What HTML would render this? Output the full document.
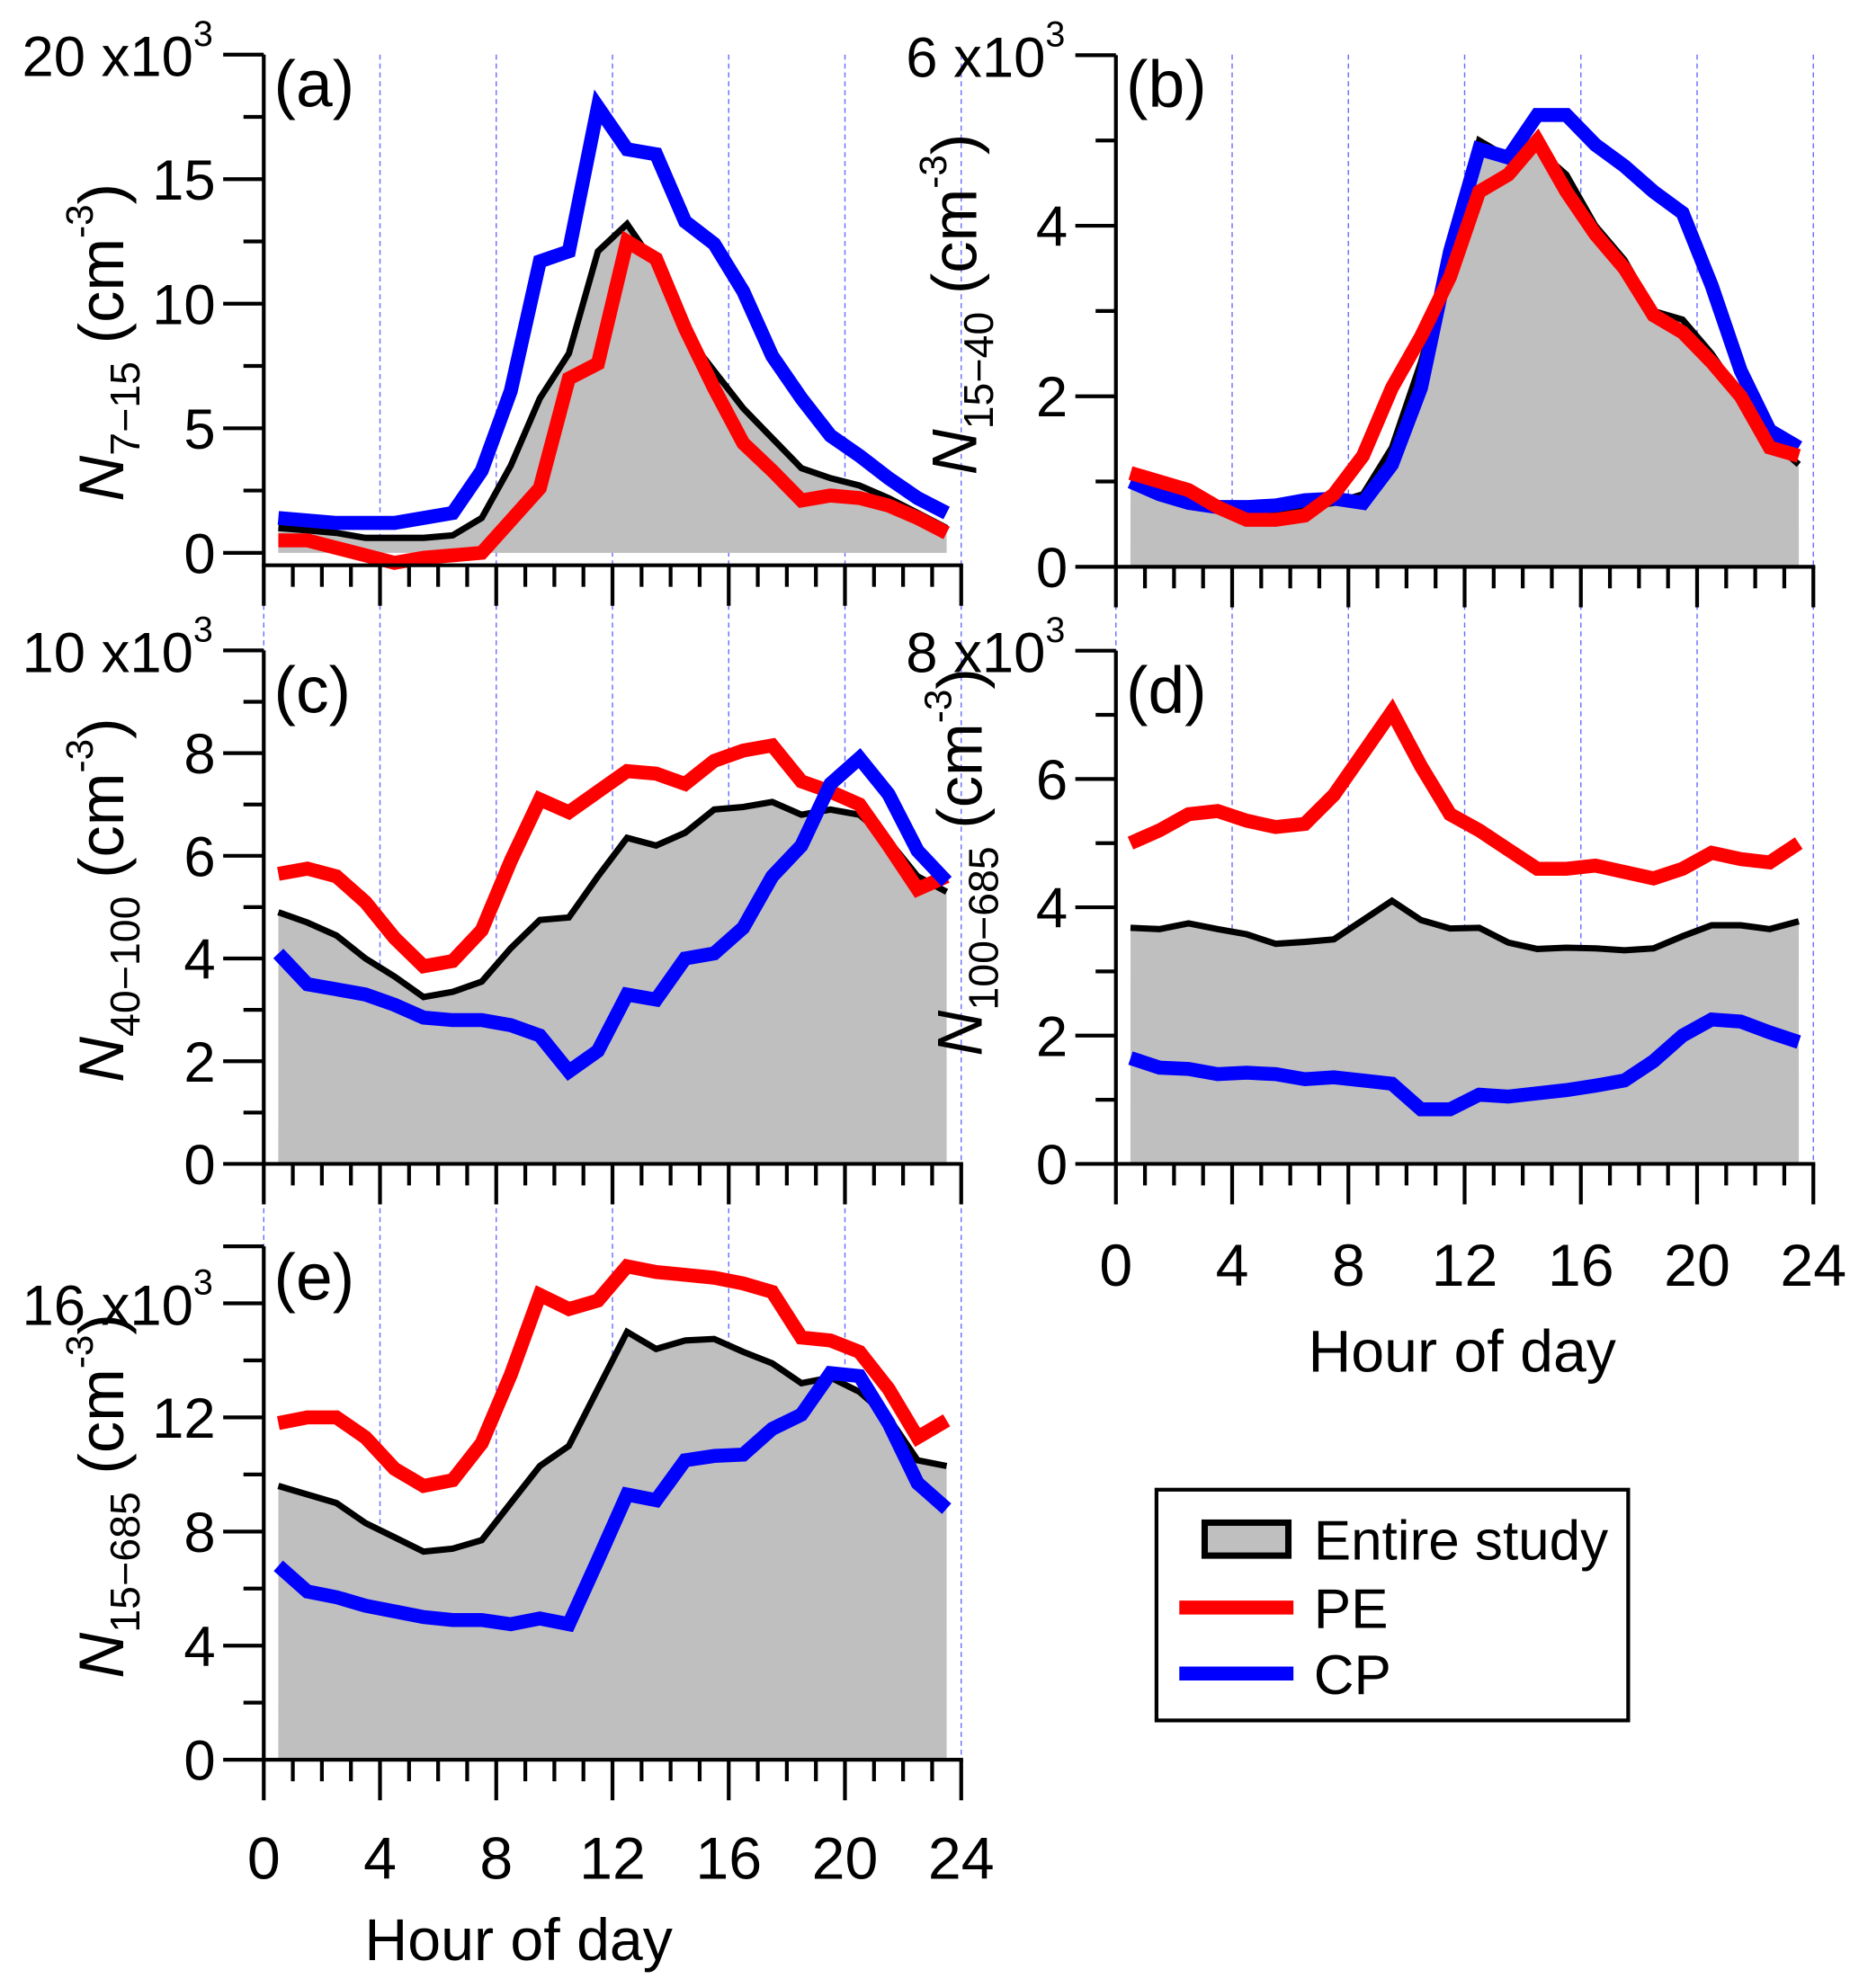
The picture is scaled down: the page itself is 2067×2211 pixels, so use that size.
<!DOCTYPE html>
<html><head><meta charset="utf-8"><style>
html,body{margin:0;padding:0;background:#fff}
svg{display:block}
text{font-family:"Liberation Sans",sans-serif;fill:#000}
</style></head><body>
<svg id="fig" width="2067" height="2211" viewBox="0 0 1466 1568" xmlns="http://www.w3.org/2000/svg">
<g id="root"></g>
<g>
<rect x="912" y="1175" width="372" height="182" fill="#fff" stroke="#000" stroke-width="3"/>
<rect x="950" y="1201" width="66" height="26" fill="#bfbfbf" stroke="#000" stroke-width="5"/>
<text x="1036" y="1230" font-size="44">Entire study</text>
<line x1="930" y1="1268" x2="1020" y2="1268" stroke="#ff0000" stroke-width="11"/>
<text x="1036" y="1284" font-size="44">PE</text>
<line x1="930" y1="1320" x2="1020" y2="1320" stroke="#0000ff" stroke-width="11"/>
<text x="1036" y="1336" font-size="44">CP</text>
</g>
</svg>
<script>
const hours = [0.5,1.5,2.5,3.5,4.5,5.5,6.5,7.5,8.5,9.5,10.5,11.5,12.5,13.5,14.5,15.5,16.5,17.5,18.5,19.5,20.5,21.5,22.5,23.5];
const xTicks = [0,4,8,12,16,20,24];
const aEntire = [1.0,0.9,0.8,0.6,0.6,0.6,0.7,1.4,3.5,6.2,8.0,12.1,13.2,11.5,8.8,7.3,5.8,4.6,3.4,3.0,2.7,2.2,1.6,1.0];
const aPE = [0.5,0.5,0.2,-0.1,-0.4,-0.2,-0.1,0.0,1.3,2.6,7.0,7.6,12.5,11.8,9.0,6.6,4.4,3.3,2.1,2.3,2.2,1.9,1.4,0.8];
const aCP = [1.4,1.3,1.2,1.2,1.2,1.4,1.6,3.3,6.5,11.7,12.1,17.9,16.2,16.0,13.3,12.4,10.5,7.9,6.2,4.7,3.9,3.0,2.2,1.6];
const bEntire = [1.0,0.9,0.8,0.7,0.65,0.6,0.7,0.75,0.85,1.4,2.4,3.6,5.0,4.8,4.9,4.6,4.0,3.6,3.0,2.9,2.5,2.0,1.5,1.2];
const bPE = [1.1,1.0,0.9,0.7,0.55,0.55,0.6,0.85,1.3,2.1,2.7,3.4,4.4,4.6,5.0,4.4,3.9,3.5,2.95,2.75,2.4,2.0,1.4,1.3];
const bCP = [1.0,0.85,0.75,0.7,0.7,0.72,0.78,0.8,0.75,1.2,2.1,3.7,4.9,4.8,5.3,5.3,4.95,4.7,4.4,4.15,3.3,2.3,1.6,1.4];
const cEntire = [4.9,4.7,4.45,4.0,3.65,3.25,3.35,3.55,4.2,4.75,4.8,5.6,6.35,6.2,6.45,6.9,6.95,7.05,6.8,6.9,6.8,6.3,5.6,5.3];
const cPE = [5.65,5.75,5.6,5.1,4.4,3.85,3.95,4.55,5.9,7.1,6.85,7.25,7.65,7.6,7.4,7.85,8.05,8.15,7.45,7.25,7.0,6.2,5.35,5.6];
const cCP = [4.1,3.5,3.4,3.3,3.1,2.85,2.8,2.8,2.7,2.5,1.8,2.2,3.3,3.2,4.0,4.1,4.6,5.6,6.2,7.4,7.9,7.2,6.1,5.5];
const dEntire = [3.68,3.66,3.75,3.66,3.58,3.43,3.46,3.5,3.8,4.1,3.8,3.67,3.68,3.45,3.35,3.37,3.36,3.33,3.36,3.55,3.72,3.72,3.66,3.78];
const dPE = [5.0,5.2,5.45,5.5,5.35,5.25,5.3,5.75,6.4,7.05,6.2,5.45,5.2,4.9,4.6,4.6,4.65,4.55,4.45,4.6,4.85,4.75,4.7,5.0];
const dCP = [1.65,1.5,1.48,1.4,1.42,1.4,1.32,1.35,1.3,1.25,0.85,0.85,1.08,1.05,1.1,1.15,1.22,1.3,1.6,2.0,2.25,2.22,2.05,1.9];
const eEntire = [9.6,9.3,9.0,8.3,7.8,7.3,7.4,7.7,9.0,10.3,11.0,13.0,15.0,14.4,14.7,14.75,14.3,13.9,13.2,13.4,12.9,12.0,10.5,10.3];
const ePE = [11.8,12.0,12.0,11.3,10.2,9.6,9.8,11.1,13.5,16.3,15.8,16.1,17.3,17.1,17.0,16.9,16.7,16.4,14.8,14.7,14.3,13.0,11.3,11.9];
const eCP = [6.8,5.9,5.7,5.4,5.2,5.0,4.9,4.9,4.75,4.95,4.75,7.0,9.3,9.1,10.5,10.65,10.7,11.6,12.1,13.55,13.45,11.8,9.7,8.8];
const aYTicks = [0,5,10,15];
const bYTicks = [0,2,4];
const cYTicks = [0,2,4,6,8];
const dYTicks = [0,2,4,6];
const eYTicks = [0,4,8,12];

const NS = "http://www.w3.org/2000/svg";
const root = document.getElementById('root');
function mk(tag, attrs, parent) {
  const el = document.createElementNS(NS, tag);
  for (const k in attrs) el.setAttribute(k, attrs[k]);
  (parent || root).appendChild(el);
  return el;
}
const panels = [
  {id:'a', x0:208, x1:758, yz:436, ppu:19.65, ymin:-0.5, ymax:20, minor:2.5, ticks:aYTicks, top:'20', sub:'7−15', ent:aEntire, pe:aPE, cp:aCP, labX:79, labY:270, showX:false},
  {id:'b', x0:880, x1:1430, yz:447, ppu:67.25, ymin:0, ymax:6, minor:1, ticks:bYTicks, top:'6', sub:'15−40', ent:bEntire, pe:bPE, cp:bCP, labX:752, labY:240, showX:false},
  {id:'c', x0:208, x1:758, yz:918, ppu:40.5, ymin:0, ymax:10, minor:1, ticks:cYTicks, top:'10', sub:'40−100', ent:cEntire, pe:cPE, cp:cCP, labX:79, labY:710, showX:false},
  {id:'d', x0:880, x1:1430, yz:918, ppu:50.6, ymin:0, ymax:8, minor:1, ticks:dYTicks, top:'8', sub:'100−685', ent:dEntire, pe:dPE, cp:dCP, labX:756, labY:680, showX:true, xLabY:1014, titleY:1082, titleX:1153},
  {id:'e', x0:208, x1:758, yz:1388, ppu:22.5, ymin:0, ymax:18, minor:2, ticks:eYTicks, top:'16', sub:'15−685', ent:eEntire, pe:ePE, cp:eCP, labX:79, labY:1180, showX:true, xLabY:1482, titleY:1546, titleX:409}
];
const grid = mk('g', {});


[{x0:208,x1:758,t:43,b:1388},{x0:880,x1:1430,t:43,b:918}].forEach(col => {
  xTicks.forEach(h => {
    const x = col.x0 + (col.x1 - col.x0) * h / 24;
    const l = mk('line', {x1:x, x2:x, y1:col.t, y2:col.b, stroke:'#6b6bff', 'stroke-width':1, 'stroke-dasharray':'4,3'}, grid);
    
    
  });
});
panels.forEach(p => {
  const g = mk('g', {});
  
  
  const X = h => p.x0 + (p.x1 - p.x0) * h / 24;
  const Y = v => p.yz - v * p.ppu;
  const pts = arr => arr.map((v, i) => X(hours[i]).toFixed(1) + ',' + Y(v).toFixed(1)).join(' ');
  const areaPts = X(hours[0]) + ',' + Y(0) + ' ' + pts(p.ent) + ' ' + X(hours[hours.length - 1]) + ',' + Y(0);
  const area = mk('polygon', {points: areaPts, fill:'#bfbfbf'}, g);
  
  
  const le = mk('polyline', {points: pts(p.ent), fill:'none', stroke:'#000', 'stroke-width':5}, g);
  
  
  const lp = mk('polyline', {points: pts(p.pe), fill:'none', stroke:'#ff0000', 'stroke-width':11}, g);
  
  
  const lc = mk('polyline', {points: pts(p.cp), fill:'none', stroke:'#0000ff', 'stroke-width':11}, g);
  
  
  if (p.id === 'b') { g.insertBefore(lc, lp); }
  const yb = Y(p.ymin), yt = Y(p.ymax);
  const ax = mk('g', {stroke:'#000', 'stroke-width':3}, g);
  
  
  mk('line', {x1:p.x0, x2:p.x0, y1:yt, y2:yb}, ax);
  mk('line', {x1:p.x0 - 1.5, x2:p.x1 + 1.5, y1:yb, y2:yb}, ax);
  for (let h = 0; h <= 24; h++) {
    const major = h % 4 === 0;
    mk('line', {x1:X(h), x2:X(h), y1:yb, y2:yb + (major ? 32 : 17)}, ax);
  }
  for (let v = 0; v <= p.ymax + 1e-6; v += p.minor) {
    const major = p.ticks.includes(v) || Math.abs(v - p.ymax) < 1e-6 || (p.id === 'e' && v === 16);
    mk('line', {x1:p.x0, x2:p.x0 - (major ? 32 : 16), y1:Y(v), y2:Y(v)}, ax);
  }
  p.ticks.forEach(v => {
    const t = mk('text', {x:p.x0 - 38, y:Y(v) + 16, 'font-size':45, 'text-anchor':'end'}, g);
    t.textContent = v;
    
    
  });
  const topV = parseFloat(p.top);
  const tt = mk('text', {x:p.x0 - 40, y:Y(topV) + 17, 'font-size':45, 'text-anchor':'end'}, g);
  tt.innerHTML = p.top + ' x10<tspan font-size="28" dy="-24">3</tspan><tspan dy="24" font-size="1"> </tspan>';
  
  
  const pl = mk('text', {x:p.x0 + 8, y:(p.id === 'e' ? 1025 : p.id === 'a' || p.id === 'b' ? 84 : 562), 'font-size':52}, g);
  pl.textContent = '(' + p.id + ')';
  
  
  const yl = mk('text', {x:0, y:0, 'font-size':50, 'text-anchor':'middle', transform:'translate(' + (p.labX + 18) + ',' + p.labY + ') rotate(-90)'}, g);
  yl.innerHTML = '<tspan font-style="italic">N</tspan><tspan font-size="33" dy="13">' + p.sub + '</tspan><tspan dy="-13"> (cm</tspan><tspan font-size="30" dy="-24">-3</tspan><tspan dy="24">)</tspan>';
  
  
  if (p.showX) {
    xTicks.forEach(h => {
      const t = mk('text', {x:X(h), y:p.xLabY, 'font-size':47, 'text-anchor':'middle'}, g);
      t.textContent = h;
      
      
    });
    const xt = mk('text', {x:p.titleX, y:p.titleY, 'font-size':47, 'text-anchor':'middle'}, g);
    xt.textContent = 'Hour of day';
    
    
  }
});
</script>
</body></html>
